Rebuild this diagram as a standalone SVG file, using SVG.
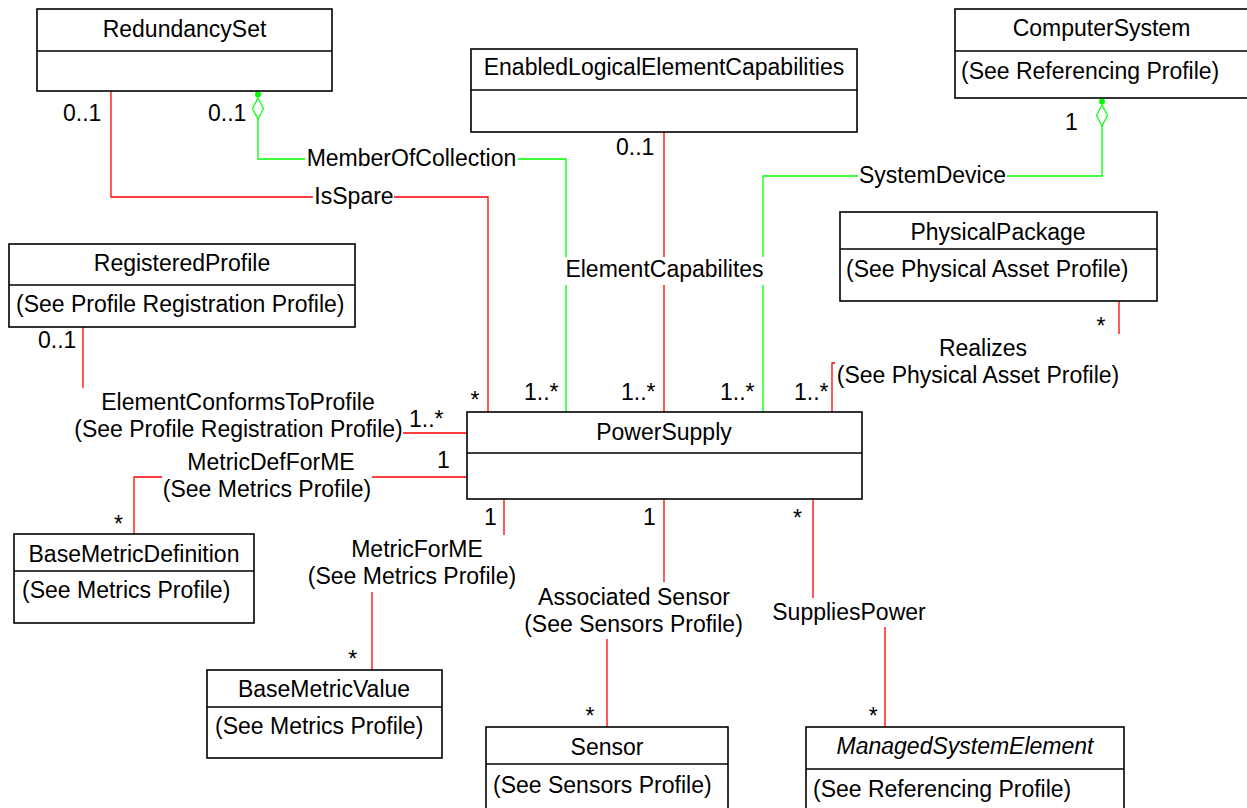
<svg xmlns="http://www.w3.org/2000/svg" width="1247" height="808" viewBox="0 0 1247 808">
<defs>
<style>
text{font-family:"Liberation Sans",Arial,sans-serif;font-size:23px;fill:#000}
.box{fill:#fff;stroke:#000;stroke-width:1.6}
.div{stroke:#000;stroke-width:1.6;fill:none}
.c{text-anchor:middle}
.it{font-style:italic}
.red{stroke:#ff0000;stroke-width:1.3;fill:none}
.grn{stroke:#00ff00;stroke-width:1.3;fill:none}
.dia{fill:#fff;stroke:#00ff00;stroke-width:1.2}
.dot{fill:#00ff00}
</style>
</defs>
<rect width="1247" height="808" fill="#fff"/>

<g id="connectors">
  <!-- IsSpare -->
  <path class="red" d="M111,91 V197 H313 M394,197 H488 V412"/>
  <text class="c" x="354" y="204">IsSpare</text>
  <!-- MemberOfCollection -->
  <path class="grn" d="M258,119 V159 H305 M518,159 H566 V257 M566,285 V412"/>
  <path class="dia" d="M258,98 L263.5,108.5 L258,119 L252.5,108.5 Z"/>
  <circle class="dot" cx="258" cy="94.5" r="3"/>
  <text class="c" x="411.5" y="166">MemberOfCollection</text>
  <!-- ElementCapabilites -->
  <path class="red" d="M664,132 V257 M664,285 V412"/>
  <text class="c" x="664.5" y="277">ElementCapabilites</text>
  <!-- SystemDevice -->
  <path class="grn" d="M763,412 V285 M763,257 V176 H858 M1007,176 H1102 V126"/>
  <path class="dia" d="M1102,105 L1107.5,115.5 L1102,126 L1096.5,115.5 Z"/>
  <circle class="dot" cx="1102" cy="101.5" r="3"/>
  <text class="c" x="932.5" y="183">SystemDevice</text>
  <!-- Realizes -->
  <path class="red" d="M1119,301 V334 M835,363 H832 V412"/>
  <text class="c" x="983" y="356">Realizes</text>
  <text class="c" x="978" y="383">(See Physical Asset Profile)</text>
  <!-- ElementConformsToProfile -->
  <path class="red" d="M83,327 V388 M403,433 H467"/>
  <text class="c" x="238" y="410">ElementConformsToProfile</text>
  <text class="c" x="238.5" y="437">(See Profile Registration Profile)</text>
  <!-- MetricDefForME -->
  <path class="red" d="M467,477 H372 M162,477 H134 V534"/>
  <text class="c" x="271" y="470">MetricDefForME</text>
  <text class="c" x="267" y="497">(See Metrics Profile)</text>
  <!-- MetricForME -->
  <path class="red" d="M504,499 V535 M372,592 V670"/>
  <text class="c" x="417" y="557">MetricForME</text>
  <text class="c" x="412" y="584">(See Metrics Profile)</text>
  <!-- Associated Sensor -->
  <path class="red" d="M664,499 V582 M607,639 V727"/>
  <text class="c" x="634" y="605">Associated Sensor</text>
  <text class="c" x="633.5" y="632">(See Sensors Profile)</text>
  <!-- SuppliesPower -->
  <path class="red" d="M813,499 V598 M885,627 V727"/>
  <text class="c" x="849" y="620">SuppliesPower</text>

  <!-- multiplicities -->
  <text x="63" y="121">0..1</text>
  <text x="208" y="121">0..1</text>
  <text x="616" y="155">0..1</text>
  <text x="1065" y="130">1</text>
  <text class="c" x="1101" y="334">*</text>
  <text x="38" y="348">0..1</text>
  <text x="409" y="427">1..*</text>
  <text x="437" y="468">1</text>
  <text class="c" x="118.5" y="532">*</text>
  <text class="c" x="475" y="408">*</text>
  <text x="524" y="400">1..*</text>
  <text x="621" y="400">1..*</text>
  <text x="720" y="400">1..*</text>
  <text x="794" y="400">1..*</text>
  <text x="484" y="525">1</text>
  <text x="643" y="525">1</text>
  <text class="c" x="797.5" y="526">*</text>
  <text class="c" x="352.7" y="667">*</text>
  <text class="c" x="590" y="724">*</text>
  <text class="c" x="873.3" y="724">*</text>
</g>

<g id="RedundancySet">
  <rect class="box" x="37" y="9" width="295" height="82"/>
  <line class="div" x1="37" y1="51" x2="332" y2="51"/>
  <text class="c" x="184.5" y="37">RedundancySet</text>
</g>

<g id="EnabledLogicalElementCapabilities">
  <rect class="box" x="471" y="49" width="386" height="83"/>
  <line class="div" x1="471" y1="90" x2="857" y2="90"/>
  <text class="c" x="664" y="75">EnabledLogicalElementCapabilities</text>
</g>

<g id="ComputerSystem">
  <rect class="box" x="955" y="9" width="296" height="89"/>
  <line class="div" x1="955" y1="51" x2="1251" y2="51"/>
  <text class="c" x="1101.5" y="36">ComputerSystem</text>
  <text x="961" y="79">(See Referencing Profile)</text>
</g>

<g id="RegisteredProfile">
  <rect class="box" x="9" y="244" width="346" height="83"/>
  <line class="div" x1="9" y1="285" x2="355" y2="285"/>
  <text class="c" x="182" y="271">RegisteredProfile</text>
  <text x="16" y="312">(See Profile Registration Profile)</text>
</g>

<g id="PhysicalPackage">
  <rect class="box" x="840" y="212" width="317" height="89"/>
  <line class="div" x1="840" y1="249" x2="1157" y2="249"/>
  <text class="c" x="998" y="240">PhysicalPackage</text>
  <text x="846" y="277">(See Physical Asset Profile)</text>
</g>

<g id="PowerSupply">
  <rect class="box" x="467" y="412" width="395" height="87"/>
  <line class="div" x1="467" y1="453" x2="862" y2="453"/>
  <text class="c" x="664" y="440">PowerSupply</text>
</g>

<g id="BaseMetricDefinition">
  <rect class="box" x="14" y="534" width="240" height="89"/>
  <line class="div" x1="14" y1="571" x2="254" y2="571"/>
  <text class="c" x="134" y="562">BaseMetricDefinition</text>
  <text x="22" y="598">(See Metrics Profile)</text>
</g>

<g id="BaseMetricValue">
  <rect class="box" x="207" y="670" width="235" height="88"/>
  <line class="div" x1="207" y1="707" x2="442" y2="707"/>
  <text class="c" x="324" y="697">BaseMetricValue</text>
  <text x="215" y="734">(See Metrics Profile)</text>
</g>

<g id="Sensor">
  <rect class="box" x="486" y="727" width="242" height="90"/>
  <line class="div" x1="486" y1="764" x2="728" y2="764"/>
  <text class="c" x="607" y="755">Sensor</text>
  <text x="493" y="793">(See Sensors Profile)</text>
</g>

<g id="ManagedSystemElement">
  <rect class="box" x="806" y="727" width="318" height="90"/>
  <line class="div" x1="806" y1="769" x2="1124" y2="769"/>
  <text class="c it" x="965" y="754">ManagedSystemElement</text>
  <text x="813" y="797">(See Referencing Profile)</text>
</g>
</svg>
